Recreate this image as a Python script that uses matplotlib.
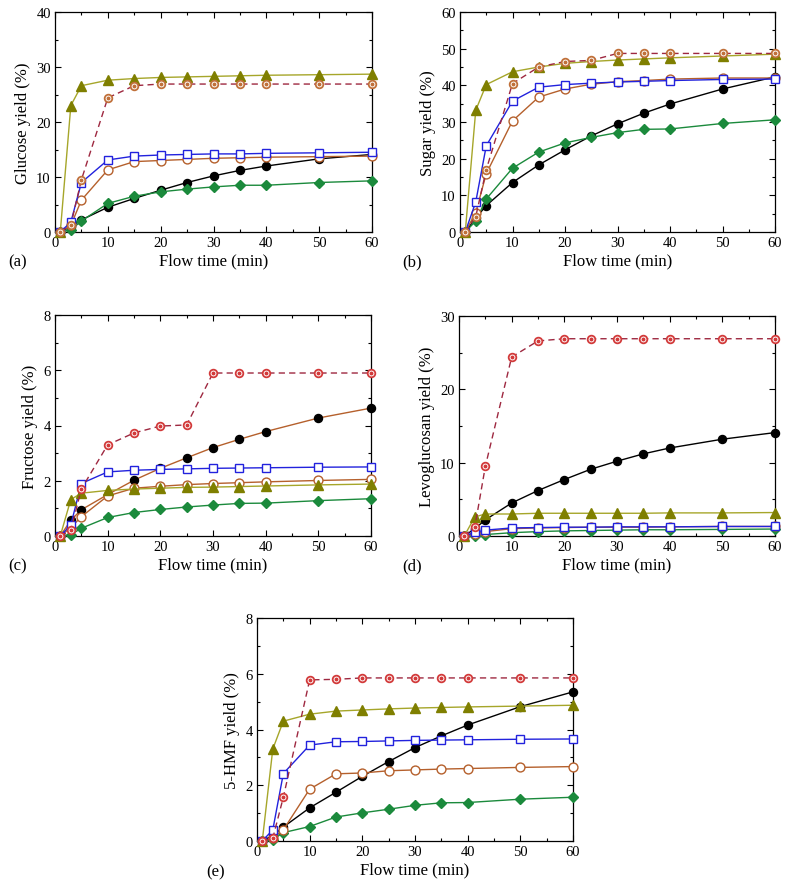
import matplotlib
matplotlib.use("Agg")
import matplotlib.pyplot as plt
from matplotlib.ticker import MultipleLocator

plt.rcParams['font.family'] = ['Liberation Serif', 'DejaVu Serif']
plt.rcParams['mathtext.fontset'] = 'stix'

t = [1, 3, 5, 10, 15, 20, 25, 30, 35, 40, 50, 60]

# (a) Glucose
glu_black = [0, 1.0, 2.2, 4.5, 6.1, 7.6, 9.0, 10.2, 11.2, 12.0, 13.3, 14.1]
glu_green = [0, 0.4, 2.0, 5.2, 6.5, 7.3, 7.8, 8.2, 8.5, 8.5, 9.0, 9.3]
glu_blue = [0, 1.8, 9.0, 13.1, 13.8, 14.0, 14.1, 14.2, 14.2, 14.3, 14.4, 14.5]
glu_brown = [0, 1.2, 5.8, 11.3, 12.8, 13.0, 13.2, 13.4, 13.5, 13.6, 13.7, 13.8]
glu_olive = [0, 23.0, 26.6, 27.6, 27.9, 28.1, 28.2, 28.3, 28.4, 28.5, 28.6, 28.7]
glu_ring = [0, 1.3, 9.5, 24.4, 26.6, 26.9, 26.9, 26.9, 26.9, 26.9, 26.9, 26.9]

# (b) Sugar
sug_black = [0, 3.8, 7.2, 13.5, 18.3, 22.4, 26.2, 29.5, 32.4, 34.9, 39.0, 42.3]
sug_green = [0, 3.0, 9.0, 17.4, 21.8, 24.3, 25.8, 27.1, 28.0, 28.1, 29.6, 30.6]
sug_blue = [0, 8.2, 23.5, 35.7, 39.5, 40.2, 40.6, 40.9, 41.1, 41.3, 41.6, 41.7]
sug_brown = [0, 5.3, 15.9, 30.3, 36.8, 39.0, 40.3, 41.0, 41.3, 41.7, 42.0, 42.0]
sug_olive = [0, 33.2, 40.2, 43.7, 45.0, 46.0, 46.5, 46.9, 47.2, 47.5, 48.0, 48.5]
sug_ring = [0, 4.2, 17.0, 40.5, 45.0, 46.5, 46.8, 48.7, 48.7, 48.7, 48.7, 48.7]

# (c) Fructose
fru_black = [0, 0.57, 0.95, 1.5, 2.02, 2.45, 2.83, 3.2, 3.5, 3.78, 4.27, 4.63]
fru_green = [0, 0.05, 0.28, 0.67, 0.85, 0.96, 1.05, 1.12, 1.18, 1.19, 1.28, 1.35]
fru_blue = [0, 0.4, 1.9, 2.32, 2.38, 2.41, 2.43, 2.45, 2.46, 2.47, 2.49, 2.5]
fru_brown = [0, 0.3, 0.7, 1.45, 1.73, 1.8, 1.86, 1.9, 1.93, 1.96, 2.01, 2.05]
fru_olive = [0, 1.32, 1.55, 1.65, 1.70, 1.73, 1.76, 1.77, 1.79, 1.81, 1.85, 1.88]
fru_ring = [0, 0.2, 1.7, 3.3, 3.73, 3.98, 4.02, 5.9, 5.9, 5.9, 5.9, 5.9]

# (d) Levoglucosan
lev_black = [0, 1.0, 2.2, 4.5, 6.2, 7.7, 9.1, 10.2, 11.2, 12.0, 13.2, 14.1]
lev_green = [0, 0.0, 0.2, 0.45, 0.6, 0.7, 0.75, 0.8, 0.85, 0.85, 0.9, 0.95]
lev_blue = [0, 0.5, 0.8, 1.1, 1.15, 1.2, 1.2, 1.25, 1.25, 1.25, 1.3, 1.3]
lev_brown = [0, 0.3, 0.6, 1.0, 1.1, 1.15, 1.2, 1.2, 1.2, 1.25, 1.3, 1.3]
lev_olive = [0, 2.6, 3.0, 3.0, 3.1, 3.1, 3.1, 3.1, 3.1, 3.15, 3.15, 3.2]
lev_ring = [0, 1.2, 9.5, 24.4, 26.6, 26.9, 26.9, 26.9, 26.9, 26.9, 26.9, 26.9]

# (e) 5-HMF
hmf_black = [0, 0.2, 0.5, 1.19, 1.75, 2.32, 2.85, 3.35, 3.77, 4.16, 4.82, 5.35]
hmf_green = [0, 0.05, 0.3, 0.52, 0.86, 1.01, 1.14, 1.28, 1.37, 1.38, 1.5, 1.57]
hmf_blue = [0, 0.4, 2.42, 3.44, 3.56, 3.57, 3.59, 3.61, 3.62, 3.63, 3.65, 3.66]
hmf_brown = [0, 0.1, 0.4, 1.86, 2.41, 2.44, 2.52, 2.55, 2.58, 2.6, 2.64, 2.67]
hmf_olive = [0, 3.3, 4.3, 4.55, 4.66, 4.7, 4.74, 4.77, 4.79, 4.81, 4.84, 4.87]
hmf_ring = [0, 0.1, 1.57, 5.78, 5.8, 5.85, 5.85, 5.85, 5.85, 5.85, 5.85, 5.85]

panel_labels = ['(a)', '(b)', '(c)', '(d)', '(e)']
ylabels = ['Glucose yield (%)', 'Sugar yield (%)', 'Fructose yield (%)',
           'Levoglucosan yield (%)', '5-HMF yield (%)']
ymax = [40, 60, 8, 30, 8]
ymajor = [10, 10, 2, 10, 2]

BLACK = '#000000'
GREEN = '#1b8a3c'
BLUE = '#2222dd'
BROWN = '#b5602c'
OLIVE_FILL = '#7f7f00'
OLIVE_LINE = '#a6a62a'
DASH = '#9e2840'

fig = plt.figure(figsize=(7.88, 8.87), dpi=100)
W, H = 788, 887
boxes = [(55, 372, 13, 233), (460, 775, 13, 233), (55, 371, 316, 537),
         (459, 775, 317, 537), (257, 573, 619, 842)]
label_pos = [(8, 262), (402, 262), (8, 566), (402, 566), (206, 872)]

data = [
    (glu_black, glu_green, glu_blue, glu_brown, glu_olive, glu_ring),
    (sug_black, sug_green, sug_blue, sug_brown, sug_olive, sug_ring),
    (fru_black, fru_green, fru_blue, fru_brown, fru_olive, fru_ring),
    (lev_black, lev_green, lev_blue, lev_brown, lev_olive, lev_ring),
    (hmf_black, hmf_green, hmf_blue, hmf_brown, hmf_olive, hmf_ring),
]

ms = 5.8
for i, (l, r, tp, bt) in enumerate(boxes):
    ax = fig.add_axes([l / W, 1 - bt / H, (r - l) / W, (bt - tp) / H])
    blk, grn, blu, brn, olv, rng = data[i]
    black_line = BROWN if i == 2 else BLACK
    ring_col = '#c0703a' if i < 2 else '#d23a3a'
    lw = 1.0
    kw = dict(clip_on=False)
    ax.plot(t, blk, color=black_line, lw=lw, marker='o', ms=ms, mfc=BLACK, mec=BLACK, zorder=3, **kw)
    ax.plot(t, grn, color=GREEN, lw=lw, marker='D', ms=ms - 0.7, mfc=GREEN, mec=GREEN, zorder=3, **kw)
    ax.plot(t, brn, color=BROWN, lw=lw, marker='o', ms=ms + 0.6, mfc='white', mec=BROWN, mew=1.0, zorder=3, **kw)
    ax.plot(t, blu, color=BLUE, lw=lw, marker='s', ms=ms, mfc='white', mec=BLUE, mew=1.0, zorder=4, **kw)
    ax.plot(t, olv, color=OLIVE_LINE, lw=lw, marker='^', ms=ms + 1.2, mfc=OLIVE_FILL, mec=OLIVE_FILL, zorder=4, **kw)
    ax.plot(t, rng, color=DASH, lw=lw, ls=(0, (4.5, 3)), marker='o', ms=ms - 0.3, mfc='white',
            mec=ring_col, mew=1.3, zorder=5, **kw)
    ax.plot(t, rng, ls='none', marker='o', ms=1.8, mfc=ring_col, mec=ring_col, zorder=6, **kw)

    ax.set_xlim(0, 60)
    ax.set_ylim(0, ymax[i])
    ax.xaxis.set_major_locator(MultipleLocator(10))
    ax.xaxis.set_minor_locator(MultipleLocator(5))
    ax.yaxis.set_major_locator(MultipleLocator(ymajor[i]))
    ax.yaxis.set_minor_locator(MultipleLocator(ymajor[i] / 2))
    ax.tick_params(which='both', direction='in', top=True, right=True, labelsize=10.5, pad=3)
    ax.tick_params(which='major', length=4.5, width=0.8)
    ax.tick_params(which='minor', length=2.5, width=0.8)
    for s in ax.spines.values():
        s.set_linewidth(0.9)
    ax.set_xlabel('Flow time (min)', fontsize=12, labelpad=2)
    ax.set_ylabel(ylabels[i], fontsize=12, labelpad=4)
    fig.text(label_pos[i][0] / W, 1 - label_pos[i][1] / H, panel_labels[i],
             fontsize=12, ha='left', va='center')

fig.savefig('out.png', dpi=100)
